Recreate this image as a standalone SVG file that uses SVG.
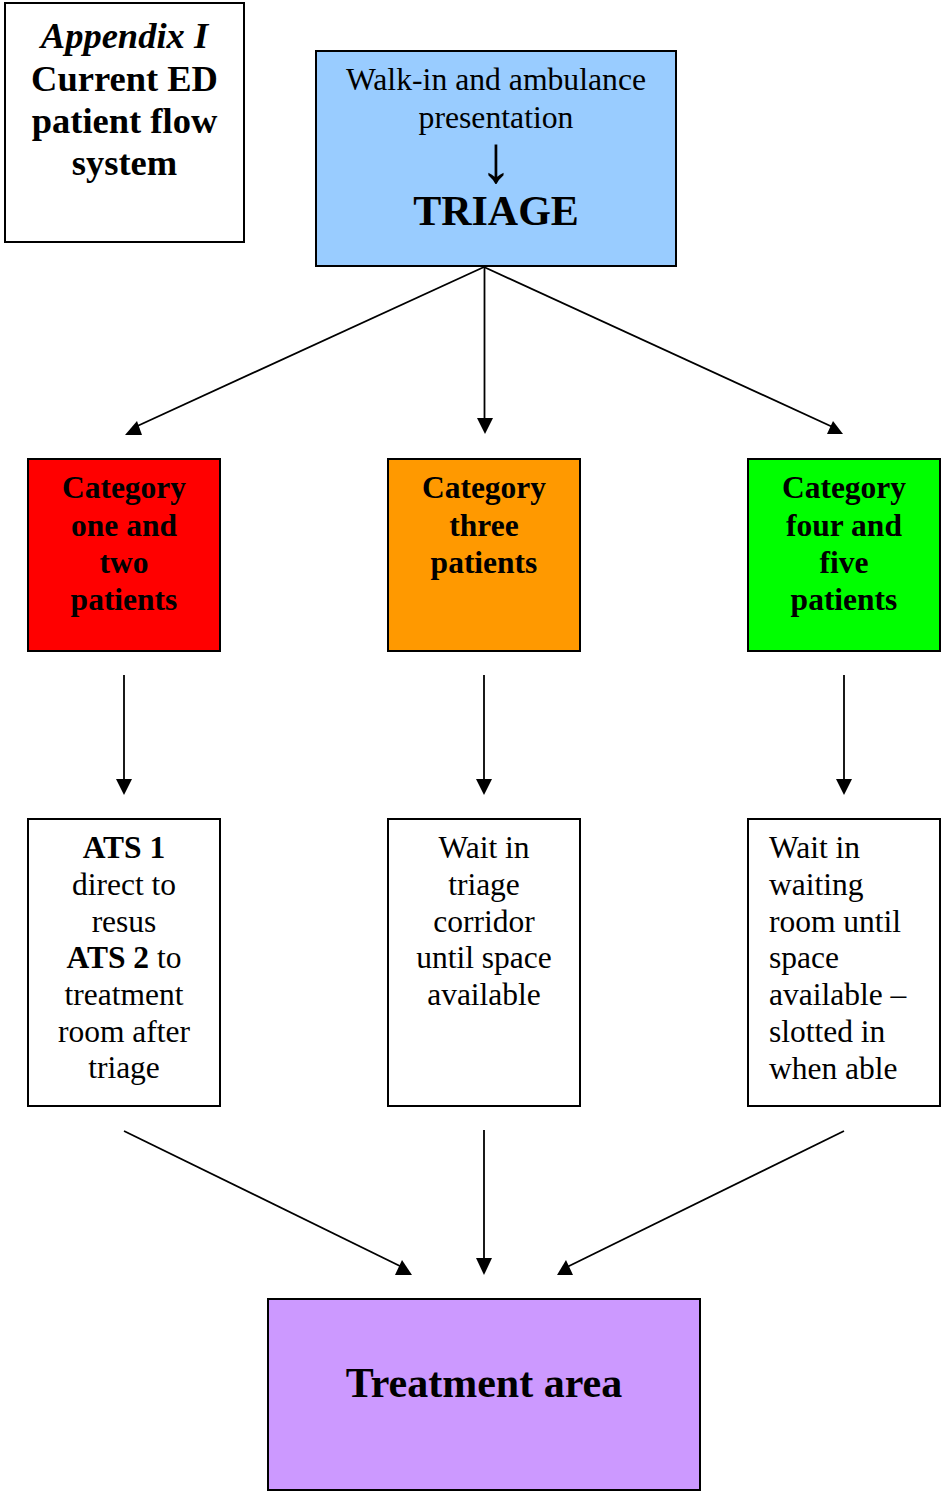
<svg xmlns="http://www.w3.org/2000/svg" width="943" height="1492" viewBox="0 0 943 1492">
<style>
  .box { stroke: #000; stroke-width: 2; }
  .t { font-family: "Liberation Serif", "Times New Roman", serif; fill: #000; }
  .c { text-anchor: middle; }
  .b { font-weight: bold; }
  .cat { font-size: 31.5px; font-weight: bold; text-anchor: middle; }
  .body { font-size: 31.5px; }
  .ln { stroke: #000; stroke-width: 1.8; fill: none; }
  .ah { fill: #000; stroke: none; }
</style>
<rect width="943" height="1492" fill="#fff"/>

<g id="title">
  <rect class="box" x="5" y="3" width="239" height="239" fill="#fff"/>
  <text class="t c b" x="124.5" y="48" font-size="36.5" font-style="italic">Appendix I</text>
  <text class="t c b" x="124.5" y="91" font-size="36.5">Current ED</text>
  <text class="t c b" x="124.5" y="133" font-size="36.5">patient flow</text>
  <text class="t c b" x="124.5" y="175" font-size="36.5">system</text>
</g>

<g id="triage">
  <rect class="box" x="316" y="51" width="360" height="215" fill="#99CCFF"/>
  <text class="t c" x="496" y="90" font-size="31.7">Walk-in and ambulance</text>
  <text class="t c" x="496" y="128" font-size="31.7">presentation</text>
  <text class="t c" x="0" y="0" font-size="36" transform="translate(496,182) scale(1.8,1.85)">↓</text>
  <text class="t c b" x="496" y="225" font-size="42">TRIAGE</text>
</g>

<g id="cat12">
  <rect class="box" x="28" y="459" width="192" height="192" fill="#FF0000"/>
  <text class="t cat" x="124" y="498">Category</text>
  <text class="t cat" x="124" y="536">one and</text>
  <text class="t cat" x="124" y="573">two</text>
  <text class="t cat" x="124" y="610">patients</text>
</g>

<g id="cat3">
  <rect class="box" x="388" y="459" width="192" height="192" fill="#FF9900"/>
  <text class="t cat" x="484" y="498">Category</text>
  <text class="t cat" x="484" y="536">three</text>
  <text class="t cat" x="484" y="573">patients</text>
</g>

<g id="cat45">
  <rect class="box" x="748" y="459" width="192" height="192" fill="#00FF00"/>
  <text class="t cat" x="844" y="498">Category</text>
  <text class="t cat" x="844" y="536">four and</text>
  <text class="t cat" x="844" y="573">five</text>
  <text class="t cat" x="844" y="610">patients</text>
</g>

<g id="ats">
  <rect class="box" x="28" y="819" width="192" height="287" fill="#fff"/>
  <text class="t c body b" x="124" y="858">ATS 1</text>
  <text class="t c body" x="124" y="895">direct to</text>
  <text class="t c body" x="124" y="932">resus</text>
  <text class="t c body" x="124" y="968"><tspan font-weight="bold">ATS 2</tspan> to</text>
  <text class="t c body" x="124" y="1005">treatment</text>
  <text class="t c body" x="124" y="1042">room after</text>
  <text class="t c body" x="124" y="1078">triage</text>
</g>

<g id="corridor">
  <rect class="box" x="388" y="819" width="192" height="287" fill="#fff"/>
  <text class="t c body" x="484" y="858">Wait in</text>
  <text class="t c body" x="484" y="895">triage</text>
  <text class="t c body" x="484" y="932">corridor</text>
  <text class="t c body" x="484" y="968">until space</text>
  <text class="t c body" x="484" y="1005">available</text>
</g>

<g id="waiting">
  <rect class="box" x="748" y="819" width="192" height="287" fill="#fff"/>
  <text class="t body" x="769" y="858">Wait in</text>
  <text class="t body" x="769" y="895">waiting</text>
  <text class="t body" x="769" y="932">room until</text>
  <text class="t body" x="769" y="968">space</text>
  <text class="t body" x="769" y="1005">available –</text>
  <text class="t body" x="769" y="1042">slotted in</text>
  <text class="t body" x="769" y="1079">when able</text>
</g>

<g id="treatment">
  <rect class="box" x="268" y="1299" width="432" height="191" fill="#CC99FF"/>
  <text class="t c b" x="484" y="1397" font-size="42">Treatment area</text>
</g>

<g id="connectors">
  <line class="ln" x1="484" y1="267" x2="133" y2="428"/>
  <polygon class="ah" points="125,435 142,435 137,421"/>
  <line class="ln" x1="484.5" y1="267" x2="484.5" y2="420"/>
  <polygon class="ah" points="477,418 493,418 485,434"/>
  <line class="ln" x1="484" y1="267" x2="837" y2="429"/>
  <polygon class="ah" points="827,434 843,434 833,421"/>

  <line class="ln" x1="124" y1="675" x2="124" y2="781"/>
  <polygon class="ah" points="116,779 132,779 124,795"/>
  <line class="ln" x1="484" y1="675" x2="484" y2="781"/>
  <polygon class="ah" points="476,779 492,779 484,795"/>
  <line class="ln" x1="844" y1="675" x2="844" y2="781"/>
  <polygon class="ah" points="836,779 852,779 844,795"/>

  <line class="ln" x1="124" y1="1131" x2="406" y2="1269"/>
  <polygon class="ah" points="395,1275 412,1275 402,1260"/>
  <line class="ln" x1="484" y1="1130" x2="484" y2="1260"/>
  <polygon class="ah" points="476,1258 492,1258 484,1275"/>
  <line class="ln" x1="844" y1="1131" x2="563" y2="1269"/>
  <polygon class="ah" points="557,1275 573,1275 566,1260"/>
</g>
</svg>
